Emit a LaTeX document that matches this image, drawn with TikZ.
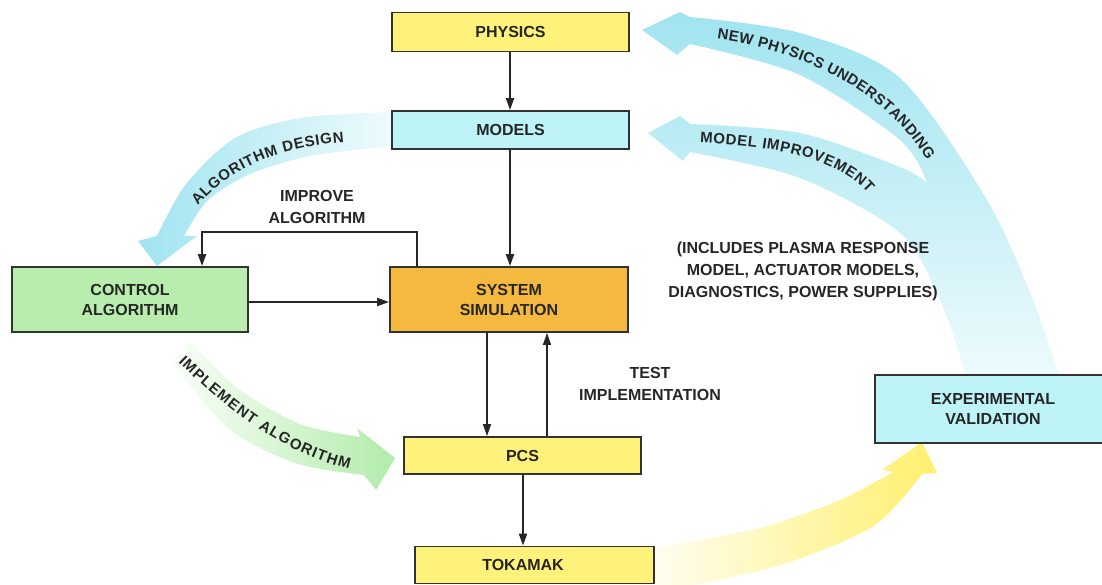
\documentclass[tikz,border=0pt]{standalone}
\usepackage{fontspec}
\setmainfont{Liberation Sans}
\usetikzlibrary{arrows.meta,decorations.text}
\definecolor{ybox}{HTML}{FFF27A}
\definecolor{cbox}{HTML}{BEF3F8}
\definecolor{obox}{HTML}{F6B93F}
\definecolor{gbox}{HTML}{B9EDAE}
\definecolor{boxline}{HTML}{333333}
\definecolor{txt}{HTML}{262626}
\definecolor{cyanA}{RGB}{160,228,240}
\definecolor{cyanP}{RGB}{238,251,253}
\definecolor{greenA}{RGB}{178,236,170}
\definecolor{greenP}{RGB}{250,254,249}
\definecolor{yelA}{RGB}{255,240,110}
\definecolor{yelP}{RGB}{255,253,240}
\newcommand{\arcfont}{\bfseries\fontsize{15}{18}\selectfont}
\begin{document}
\begin{tikzpicture}[x=1pt,y=-1pt,
  box/.style={draw=boxline, line width=1.8pt, minimum width=237pt, minimum height=38pt,
    inner sep=2pt, font=\bfseries\fontsize{16}{20}\selectfont, text=txt, align=center},
  conn/.style={line width=2pt, draw=black!85, -{Triangle[length=12pt,width=8pt]}},
  thinconn/.style={conn, line width=1.3pt},
  lbl/.style={font=\bfseries\fontsize{16}{22}\selectfont, text=txt, align=center},
  arctext/.style={decorate, decoration={text along path, text align={fit to path},
    text color=txt}}]
\useasboundingbox (0,0) rectangle (1102,584);

% ---- broad shaded arrows (background)
\shade[top color=cyanA, bottom color=cyanP]
  (642,30) -- (680,12)
  -- plot[smooth] coordinates {(690,17) (800,33) (900,78) (987,200) (1033,300) (1060,378)}
  -- (967,378)
  -- plot[smooth] coordinates {(967,378) (940,300) (900,233) (800,178) (690,152)}
  -- (683,161) -- (648,133) -- (680,116)
  -- plot[smooth] coordinates {(690,124) (800,133) (900,167) (927,183)}
  -- plot[smooth] coordinates {(927,183) (900,140) (800,75) (690,44)}
  -- (677,55) -- cycle;

\shade[left color=cyanA, right color=cyanP]
  (392,112)
  -- plot[smooth] coordinates {(392,112) (300,118) (235,138) (186,184) (157,236)}
  -- (138,241) -- (157,266) -- (197,236)
  -- plot[smooth] coordinates {(184,236) (208,200) (250,174) (310,156) (392,146)}
  -- cycle;

\shade[left color=greenP, right color=greenA]
  (190,342)
  -- plot[smooth] coordinates {(190,342) (240,390) (300,424) (360,437)}
  -- (357,428) -- (395,458) -- (376,490)
  -- plot[smooth] coordinates {(364,475) (295,463) (228,428) (172,362)}
  -- cycle;

\shade[left color=yelP, right color=yelA]
  (655,548)
  -- plot[smooth] coordinates {(655,548) (760,528) (840,500) (893,472)}
  -- (882,470) -- (922,442) -- (937,473)
  -- plot[smooth] coordinates {(922,474) (875,525) (790,562) (700,584) (655,590)}
  -- cycle;

% ---- boxes
\node[box, fill=ybox, minimum height=39pt] (phys) at (510.5,32) {PHYSICS};
\node[box, fill=cbox] (models) at (510.5,130) {MODELS};
\node[box, fill=obox, minimum width=238pt, minimum height=65pt] (sys) at (509,299.5) {SYSTEM\\SIMULATION};
\node[box, fill=gbox, minimum width=236pt, minimum height=65pt] (ctrl) at (130,299.5) {CONTROL\\ALGORITHM};
\node[box, fill=ybox, minimum height=37pt] (pcs) at (522.5,455.5) {PCS};
\node[box, fill=ybox, minimum width=239pt, minimum height=37pt] (tok) at (534.5,565) {TOKAMAK\hspace*{23pt}};
\node[box, fill=cbox, minimum width=236pt, minimum height=68pt] (exp) at (993,409) {EXPERIMENTAL\\VALIDATION};

% ---- labels
\node[lbl] (improve) at (317,207) {IMPROVE\\ALGORITHM};
\node[lbl] (test) at (650,384) {TEST\\IMPLEMENTATION};
\node[lbl] (incl) at (803,271) {(INCLUDES PLASMA RESPONSE\\MODEL, ACTUATOR MODELS,\\DIAGNOSTICS, POWER SUPPLIES)};

% ---- text along the broad arrows
\path[arctext, decoration={text={|\arcfont|NEW PHYSICS UNDERSTANDING}}]
  (717,39) .. controls (800,50) and (885,90) .. (927,160);
\path[arctext, decoration={text={|\arcfont|MODEL IMPROVEMENT}}]
  (700,143) .. controls (780,146) and (840,160) .. (868,193);
\path[arctext, decoration={text={|\arcfont|ALGORITHM DESIGN}}]
  (198,206) .. controls (228,170) and (275,148) .. (344,142);
\path[arctext, decoration={text={|\arcfont|IMPLEMENT ALGORITHM}}]
  (178,362) .. controls (225,408) and (280,452) .. (349,469);

% ---- connectors
\draw[conn] (510,0 |- phys.south) -- (510,0 |- models.north);
\draw[conn] (510,0 |- models.south) -- (510,0 |- sys.north);
\draw[conn] (ctrl.east |- 0,302) -- (sys.west |- 0,302);
\draw[conn] (417,0 |- sys.north) -- (417,232) -- (202,232) -- (202,0 |- ctrl.north);
\draw[thinconn] (487,0 |- sys.south) -- (487,0 |- pcs.north);
\draw[thinconn] (547,0 |- pcs.north) -- (547,0 |- sys.south);
\draw[conn] (523,0 |- pcs.south) -- (523,0 |- tok.north);
\end{tikzpicture}
\end{document}
